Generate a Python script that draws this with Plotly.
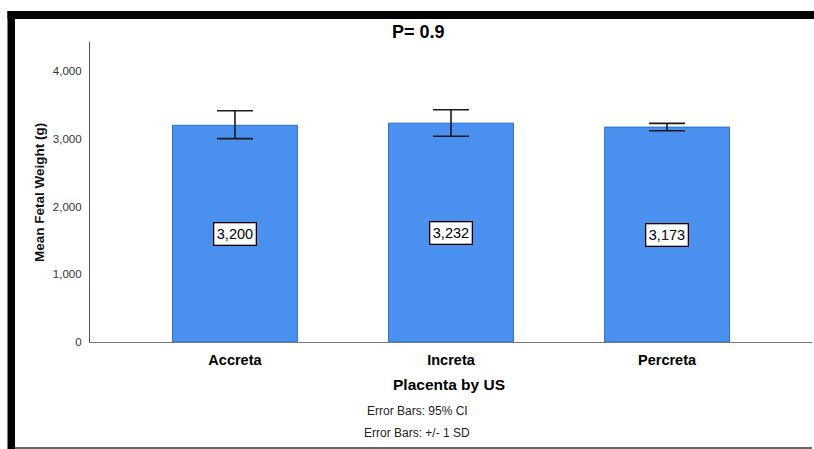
import plotly.graph_objects as go

categories = ["Accreta", "Increta", "Percreta"]
mean_weight = [3200, 3232, 3173]
err_upper = [3415, 3430, 3228]
err_lower = [3003, 3038, 3120]
value_labels = ["3,200", "3,232", "3,173"]
y_tickvals = [0, 1000, 2000, 3000, 4000]
y_ticktext = ["0", "1,000", "2,000", "3,000", "4,000"]

W, H = 814, 449
L, R, T, B = 90, 812, 42, 342


def px(x):
    return (x - L) / (R - L)


def py(y):
    return (B - y) / (B - T)


FONT = "Liberation Sans, Arial"

fig = go.Figure()
fig.add_trace(go.Bar(
    x=categories,
    y=mean_weight,
    width=0.578,
    marker=dict(color="#4a91ef", line=dict(color="#2a6fd3", width=1)),
    error_y=dict(
        type="data",
        symmetric=False,
        array=[u - m for u, m in zip(err_upper, mean_weight)],
        arrayminus=[m - l for l, m in zip(err_lower, mean_weight)],
        color="#1a1a1a",
        thickness=1.6,
        width=18,
    ),
    hoverinfo="skip",
))

annotations = []
for c, m, t in zip(categories, mean_weight, value_labels):
    annotations.append(dict(
        x=c, y=m / 2, xref="x", yref="y", text=t, showarrow=False,
        xanchor="center", yanchor="middle",
        font=dict(family=FONT, size=14.5, color="#000"),
        bgcolor="white", bordercolor="#000", borderwidth=1.3, borderpad=2.5,
    ))


def txt(x, y, text, size, color="#000", angle=0):
    return dict(x=px(x), y=py(y), xref="paper", yref="paper", text=text,
                showarrow=False, xanchor="center", yanchor="middle", textangle=angle,
                font=dict(family=FONT, size=size, color=color))


annotations += [
    txt(418, 32, "<b>P= 0.9</b>", 18),
    txt(449, 384, "<b>Placenta by US</b>", 15.5),
    txt(39, 192, "<b>Mean Fetal Weight (g)</b>", 13.5, "#111", angle=-90),
    txt(417, 411, "Error Bars: 95% CI", 12, "#222"),
    txt(417, 433, "Error Bars: +/- 1 SD", 12, "#222"),
]

shapes = [
    dict(type="rect", xref="paper", yref="paper", x0=px(7.5), x1=px(815), y0=py(19), y1=py(11),
         fillcolor="#000", line=dict(width=0), layer="above"),
    dict(type="rect", xref="paper", yref="paper", x0=px(7.5), x1=px(15), y0=py(450), y1=py(11),
         fillcolor="#000", line=dict(width=0), layer="above"),
    dict(type="line", xref="paper", yref="paper", x0=px(15), x1=px(812), y0=py(448), y1=py(448),
         line=dict(color="#333", width=1.5), layer="above"),
]

fig.update_layout(
    width=W, height=H,
    margin=dict(l=L, r=W - R, t=T, b=H - B, pad=0),
    paper_bgcolor="white", plot_bgcolor="white",
    showlegend=False,
    annotations=annotations,
    shapes=shapes,
    xaxis=dict(
        type="category", range=[-0.671, 2.671],
        showline=True, linecolor="#777", linewidth=1.2,
        showgrid=False, zeroline=False, ticks="",
        tickfont=dict(family=FONT, size=14.5, color="#000", weight="bold"),
        ticklabelstandoff=4,
    ),
    yaxis=dict(
        range=[0, 4430],
        tickvals=y_tickvals, ticktext=y_ticktext,
        showline=True, linecolor="#555", linewidth=1.2,
        showgrid=False, zeroline=False, ticks="",
        tickfont=dict(family=FONT, size=11.5, color="#333"),
        ticklabelstandoff=5,
    ),
)

fig.write_html("out.html", config={"displayModeBar": False},
               post_script="document.body.style.margin='0';")
